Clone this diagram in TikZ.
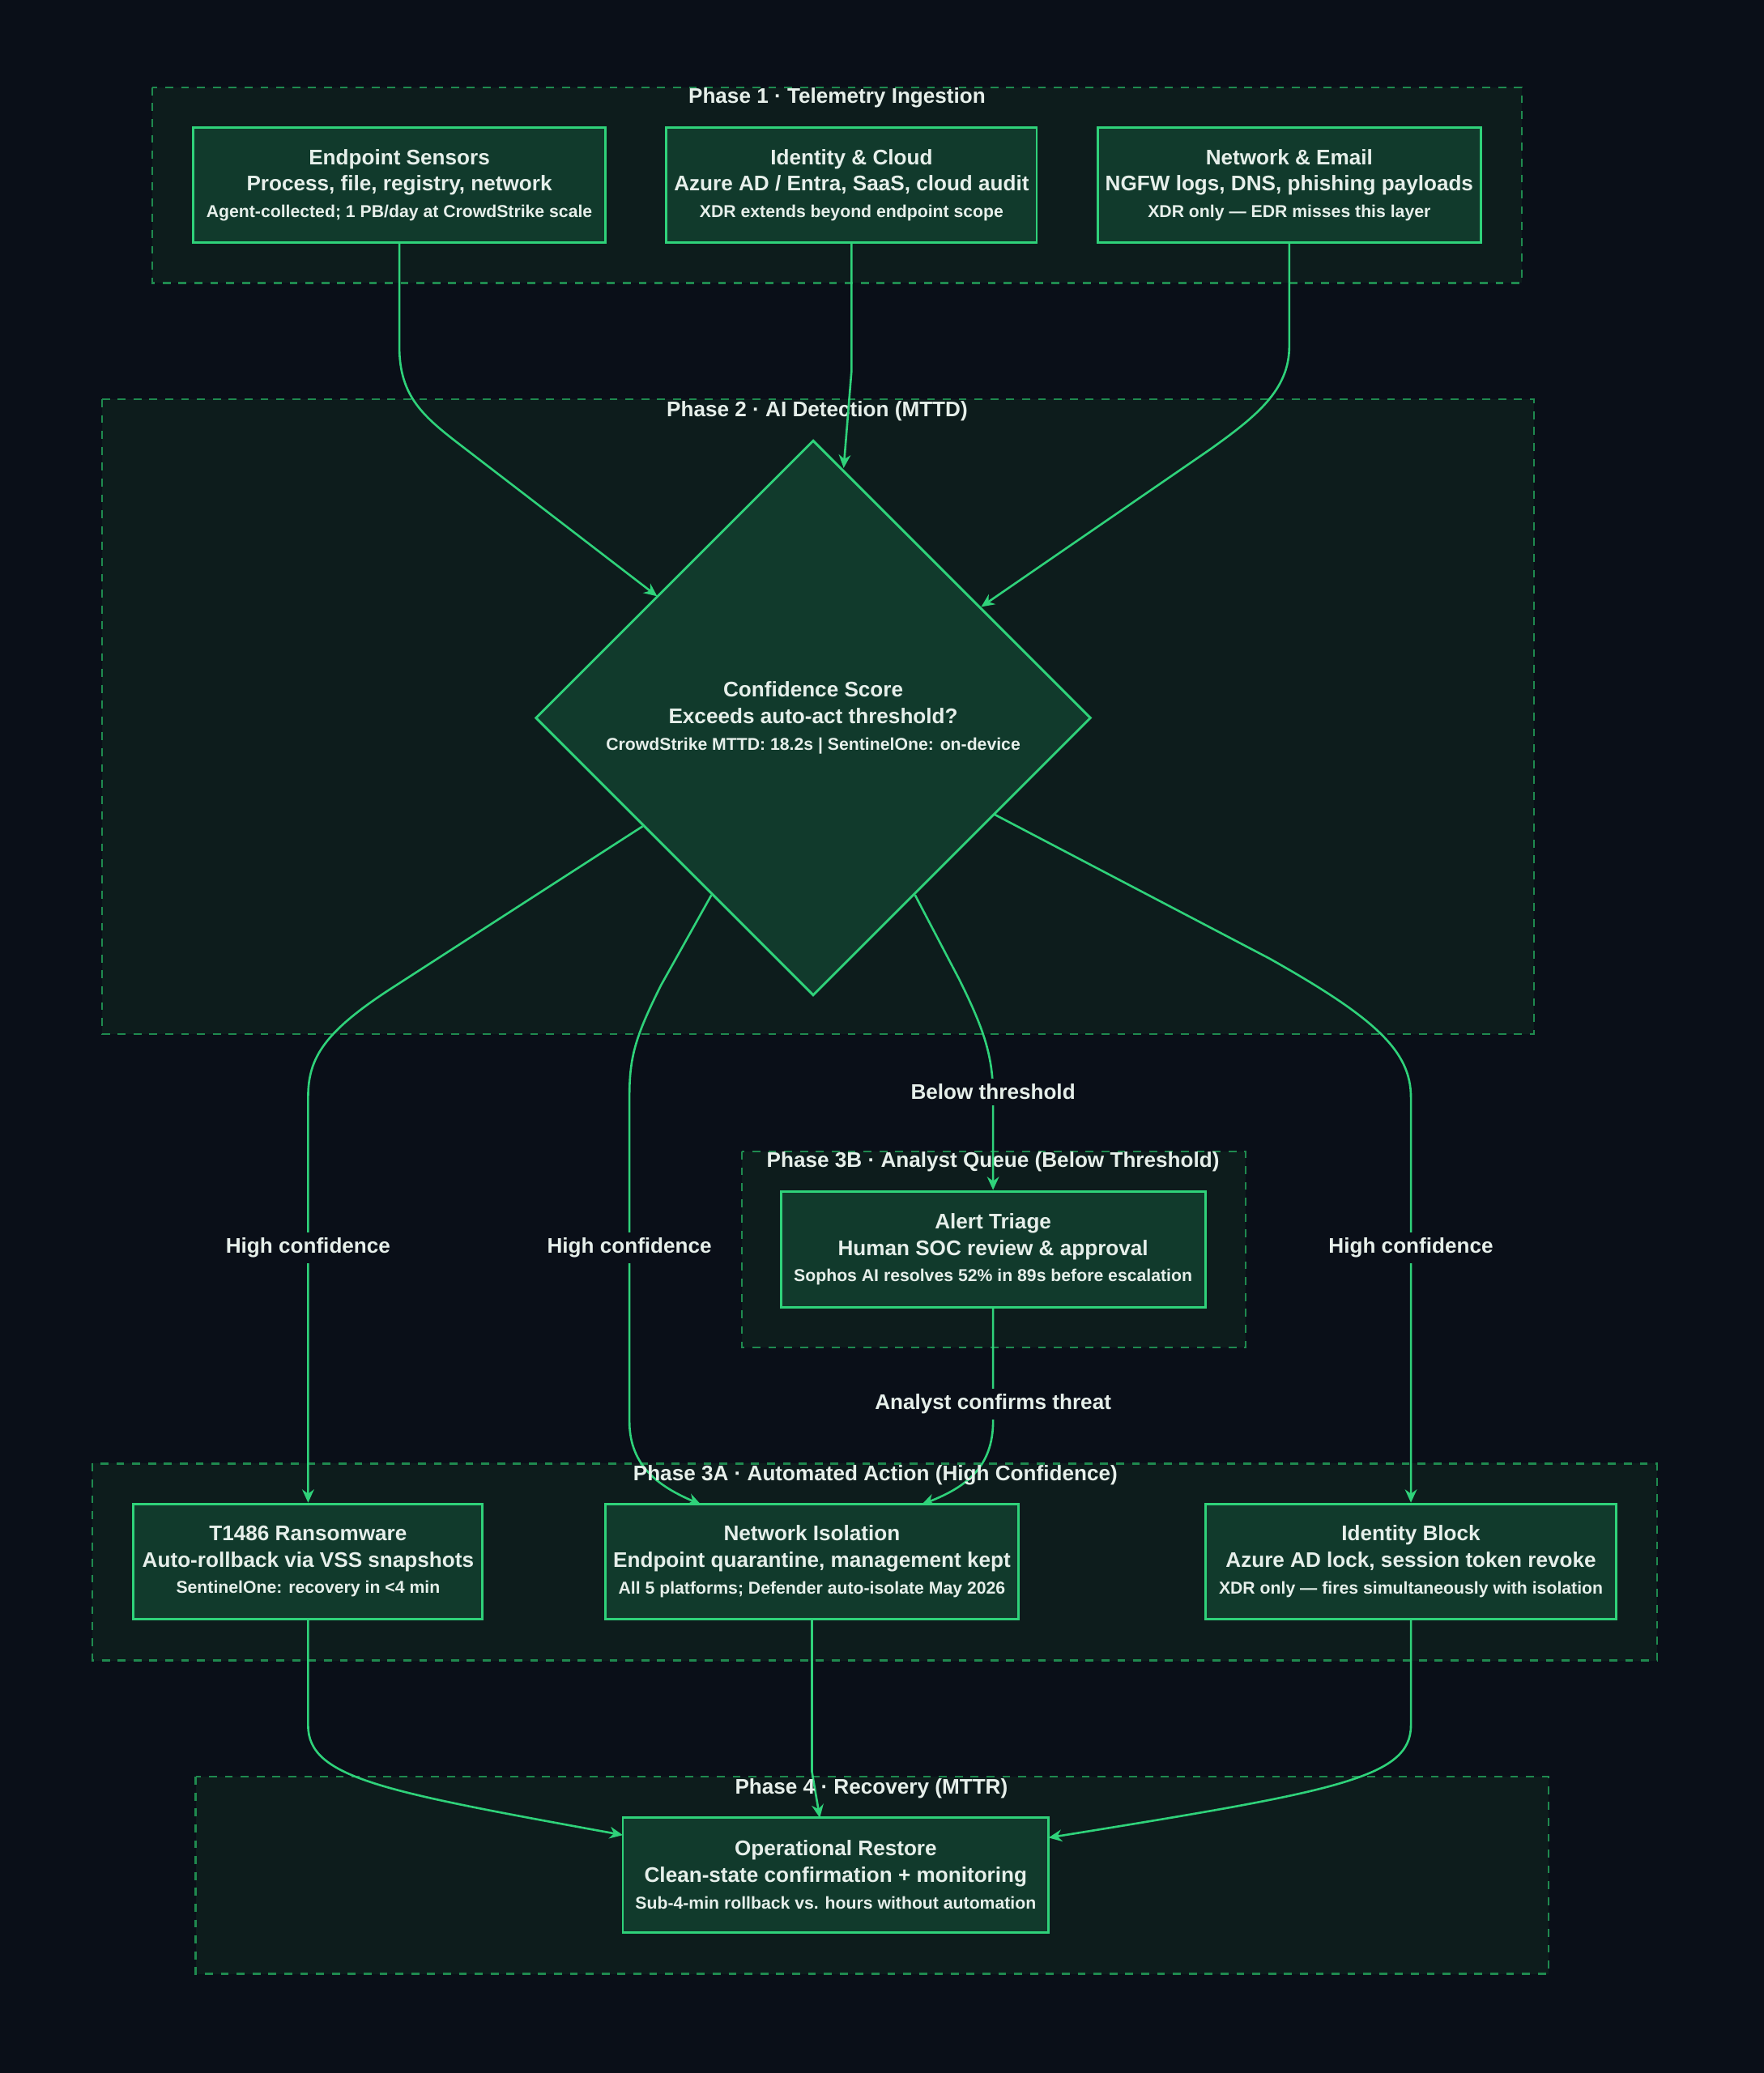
\documentclass[tikz,border=0pt]{standalone}
\usepackage{fontspec}
\setmainfont{Liberation Sans}
\usetikzlibrary{shapes.geometric,arrows.meta}
\definecolor{bg}{HTML}{0A0F18}
\definecolor{boxfill}{HTML}{113A2C}
\definecolor{grn}{HTML}{2FD27A}
\definecolor{clfill}{HTML}{0D1C1C}
\definecolor{cldraw}{HTML}{1F8A4F}
\definecolor{txt}{HTML}{E6EFEA}
\tikzset{
 cluster/.style={draw=cldraw,fill=clfill,dashed,line width=0.7pt},
 ctitle/.style={text=txt,font=\bfseries\fontsize{8}{9}\selectfont,anchor=center},
 box/.style={draw=grn,fill=boxfill,line width=0.9pt,text=txt,align=center,font=\bfseries\fontsize{8}{10}\selectfont,inner sep=0pt},
 edge/.style={draw=grn,line width=0.8pt,-{Stealth[length=5pt,width=4.5pt]}},
 lab/.style={fill=bg,text=txt,font=\bfseries\fontsize{8}{9}\selectfont,inner sep=2pt},
}
\newcommand{\sm}[1]{{\fontsize{6.5}{9}\selectfont #1}}
\begin{document}
\begin{tikzpicture}[x=0.5pt,y=-0.5pt]
\fill[bg] (0,0) rectangle (1334,1568);
\useasboundingbox (0,0) rectangle (1334,1568);
% clusters
\draw[cluster] (115,66) rectangle (1151,214);
\node[ctitle] (t1) at (633,74) {Phase 1 · Telemetry Ingestion};
\draw[cluster] (77,302) rectangle (1160,782);
\node[ctitle] (t2) at (618,311) {Phase 2 · AI Detection (MTTD)};
\draw[cluster] (561,871) rectangle (942,1019);
\node[ctitle] (t3b) at (751,879) {Phase 3B · Analyst Queue (Below Threshold)};
\draw[cluster] (70,1107) rectangle (1253,1256);
\draw[cluster] (148,1344) rectangle (1171,1493);
% nodes
\node[box,minimum width=156pt,minimum height=43.5pt] (ep) at (302,140) {Endpoint Sensors\\Process, file, registry, network\\\sm{Agent-collected; 1 PB/day at CrowdStrike scale}};
\node[box,minimum width=140pt,minimum height=43.5pt] (id) at (644,140) {Identity \& Cloud\\Azure AD / Entra, SaaS, cloud audit\\\sm{XDR extends beyond endpoint scope}};
\node[box,minimum width=145pt,minimum height=43.5pt] (ne) at (975,140) {Network \& Email\\NGFW logs, DNS, phishing payloads\\\sm{XDR only — EDR misses this layer}};
\node[box,diamond,minimum width=210pt,minimum height=210pt] (dm) at (615,543) {Confidence Score\\Exceeds auto-act threshold?\\\sm{CrowdStrike MTTD: 18.2s | SentinelOne: on-device}};
\node[box,minimum width=160.5pt,minimum height=44pt] (at) at (751,945) {Alert Triage\\Human SOC review \& approval\\\sm{Sophos AI resolves 52\% in 89s before escalation}};
\node[box,minimum width=132pt,minimum height=43.5pt] (rw) at (233,1181) {T1486 Ransomware\\Auto-rollback via VSS snapshots\\\sm{SentinelOne: recovery in <4 min}};
\node[box,minimum width=156pt,minimum height=43.5pt] (ni) at (614,1181) {Network Isolation\\Endpoint quarantine, management kept\\\sm{All 5 platforms; Defender auto-isolate May 2026}};
\node[box,minimum width=155.5pt,minimum height=43.5pt] (ib) at (1067,1181) {Identity Block\\Azure AD lock, session token revoke\\\sm{XDR only — fires simultaneously with isolation}};
\node[box,minimum width=161pt,minimum height=43.5pt] (or) at (632,1418) {Operational Restore\\Clean-state confirmation + monitoring\\\sm{Sub-4-min rollback vs. hours without automation}};
% edges
\draw[edge] (ep.south) -- (302,262) .. controls (302,300) and (320,315) .. (350,338) -- (497,451);
\draw[edge] (id.south) -- (644,280) -- (638,354);
\draw[edge] (ne.south) -- (975,262) .. controls (975,295) and (950,315) .. (915,340) -- (742,459);
\draw[edge] (486,625) -- (300,745) .. controls (245,780) and (233,800) .. (233,830) -- (rw.north);
\draw[edge] (538,677) -- (500,745) .. controls (480,785) and (476,800) .. (476,830) -- (476,1075) .. controls (476,1110) and (500,1125) .. (530,1138);
\draw[edge] (692,677) -- (725,740) .. controls (745,780) and (751,800) .. (751,830) -- (at.north);
\draw[edge] (752,616) -- (960,725) .. controls (1040,770) and (1067,795) .. (1067,830) -- (ib.north);
\draw[edge] (at.south) -- (751,1075) .. controls (751,1110) and (730,1125) .. (697,1138);
\draw[edge] (rw.south) -- (233,1305) .. controls (233,1345) and (290,1355) .. (471,1388);
\draw[edge] (ni.south) -- (614,1340) -- (620,1375);
\draw[edge] (ib.south) -- (1067,1305) .. controls (1067,1345) and (1010,1355) .. (793,1390);
% labels
\node[lab] (l1) at (233,944) {High confidence};
\node[lab] (l2) at (476,944) {High confidence};
\node[lab] (l3) at (751,826) {Below threshold};
\node[lab] (l4) at (1067,944) {High confidence};
\node[lab] (l5) at (751,1062) {Analyst confirms threat};
\node[ctitle] (t3a) at (662,1116) {Phase 3A · Automated Action (High Confidence)};
\node[ctitle] (t4) at (659,1353) {Phase 4 · Recovery (MTTR)};
\end{tikzpicture}
\end{document}
